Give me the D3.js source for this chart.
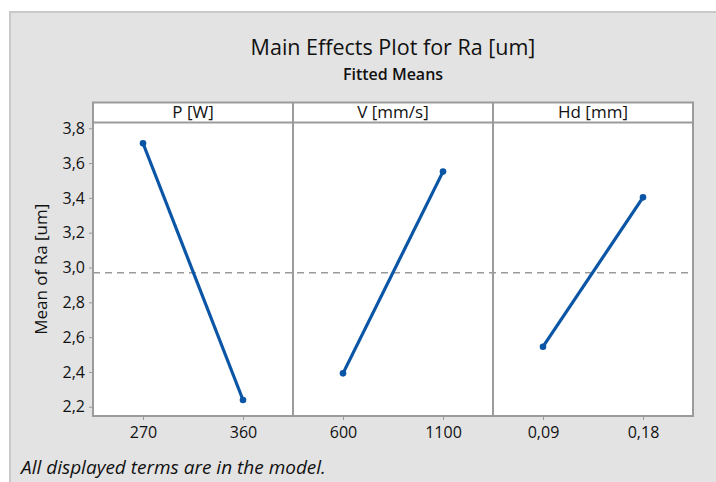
<!DOCTYPE html>
<meta charset="utf-8">
<script src="https://d3js.org/d3.v7.min.js"></script>
<style>
  body { margin: 0; background: #fff; }
  text { font-family: "Open Sans", "Noto Sans", sans-serif; fill: #111; }
</style>
<svg id="chart" width="716" height="482"></svg>
<script>
// factors shown in the panels
var factors = ["P [W]", "V [mm/s]", "Hd [mm]"];
// level labels for each factor
var levelsP = ["270", "360"];
var levelsV = ["600", "1100"];
var levelsHd = ["0,09", "0,18"];
// fitted means
var meansP = [3.714, 2.239];
var meansV = [2.392, 3.551];
var meansHd = [2.545, 3.403];
var grandMean = 2.97;
var yTicks = [2.2, 2.4, 2.6, 2.8, 3.0, 3.2, 3.4, 3.6, 3.8];

var levels = [levelsP, levelsV, levelsHd];
var means = [meansP, meansV, meansHd];

var svg = d3.select("#chart");
var width = +svg.attr("width"), height = +svg.attr("height");

// gray background with light border on top/left
svg.append("rect")
    .attr("x", 10).attr("y", 12)
    .attr("width", width).attr("height", height)
    .attr("fill", "#e3e3e3")
    .attr("stroke", "#c9c9c9")
    .attr("stroke-width", 2);

var plotLeft = 93, plotRight = 693, headTop = 102.5, plotTop = 122.5, plotBottom = 416;
var panelW = (plotRight - plotLeft) / factors.length;

var y = d3.scaleLinear().domain([2.147, 3.833]).range([plotBottom, plotTop]);
var panelX = d3.scaleBand().domain(factors).range([plotLeft, plotRight]);

// titles
svg.append("text")
    .attr("x", (plotLeft + plotRight) / 2).attr("y", 55)
    .attr("text-anchor", "middle")
    .style("font-size", "21.5px")
    .text("Main Effects Plot for Ra [um]");
svg.append("text")
    .attr("x", (plotLeft + plotRight) / 2).attr("y", 80)
    .attr("text-anchor", "middle")
    .style("font-size", "16px")
    .style("font-weight", 600)
    .text("Fitted Means");

// y label
svg.append("text")
    .attr("transform", "translate(47," + ((plotTop + plotBottom) / 2) + ") rotate(-90)")
    .attr("text-anchor", "middle")
    .style("font-size", "17px")
    .text("Mean of Ra [um]");

// y axis ticks and labels
var yAxis = svg.append("g")
    .attr("transform", "translate(" + plotLeft + ",0)")
    .call(d3.axisLeft(y).tickValues(yTicks).tickSize(4).tickPadding(4)
        .tickFormat(function(d) { return d3.format(".1f")(d).replace(".", ","); }));
yAxis.select(".domain").remove();
yAxis.selectAll("line").attr("stroke", "#999");
yAxis.selectAll("text").style("font-size", "16px").attr("fill", "#111")
    .style("font-family", "'Open Sans', sans-serif");

// plot area background
svg.append("rect")
    .attr("x", plotLeft).attr("y", headTop)
    .attr("width", plotRight - plotLeft).attr("height", plotBottom - headTop)
    .attr("fill", "#fff");

// reference line at the grand mean
svg.append("line")
    .attr("x1", plotLeft).attr("x2", plotRight)
    .attr("y1", y(grandMean)).attr("y2", y(grandMean))
    .attr("stroke", "#9a9a9a")
    .attr("stroke-width", 1.5)
    .attr("stroke-dasharray", "7,5");

factors.forEach(function(f, i) {
    var x0 = panelX(f);
    var x = d3.scalePoint().domain(levels[i]).range([x0, x0 + panelW]).padding(0.5);
    var g = svg.append("g");

    // header label
    g.append("text")
        .attr("x", x0 + panelW / 2).attr("y", 118)
        .attr("text-anchor", "middle")
        .style("font-size", "17px")
        .text(f);

    // x axis
    var xa = svg.append("g")
        .attr("transform", "translate(0," + plotBottom + ")")
        .call(d3.axisBottom(x).tickSize(4).tickPadding(7));
    xa.select(".domain").remove();
    xa.selectAll("line").attr("stroke", "#999");
    xa.selectAll("text").style("font-size", "16px").attr("fill", "#111")
        .style("font-family", "'Open Sans', sans-serif");

    var pts = levels[i].map(function(l, j) { return [x(l), y(means[i][j])]; });
    g.append("path")
        .attr("d", d3.line()(pts))
        .attr("fill", "none")
        .attr("stroke", "#0a55a5")
        .attr("stroke-width", 3.2);
    g.selectAll("circle").data(pts).enter().append("circle")
        .attr("cx", function(d) { return d[0]; })
        .attr("cy", function(d) { return d[1]; })
        .attr("r", 3.3)
        .attr("fill", "#0a55a5");
});

// frames
var frame = svg.append("g").attr("fill", "none").attr("stroke", "#9b9b9b").attr("stroke-width", 2);
frame.append("rect")
    .attr("x", plotLeft).attr("y", headTop)
    .attr("width", plotRight - plotLeft).attr("height", plotBottom - headTop);
frame.append("line")
    .attr("x1", plotLeft).attr("x2", plotRight).attr("y1", plotTop).attr("y2", plotTop);
factors.slice(1).forEach(function(f) {
    frame.append("line")
        .attr("x1", panelX(f)).attr("x2", panelX(f))
        .attr("y1", headTop).attr("y2", plotBottom);
});

// footnote
svg.append("text")
    .attr("x", 21).attr("y", 474)
    .style("font-size", "19px")
    .style("font-style", "italic")
    .text("All displayed terms are in the model.");
</script>
